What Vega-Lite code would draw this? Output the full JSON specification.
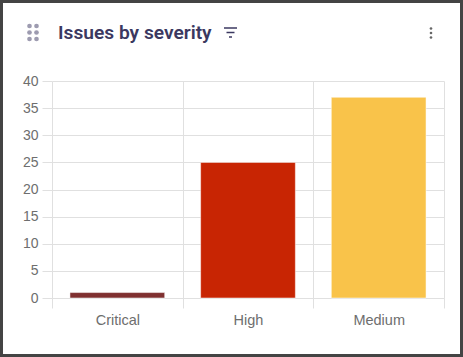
{
"$schema":"https://vega.github.io/schema/vega-lite/v6.json",
"width":392,"height":217,
"autosize":{"type":"none"},
"padding":{"left":52,"top":81,"right":19,"bottom":59},
"background":"#ffffff",
"config":{"view":{"stroke":null}},
"layer":[
{"data":{"values":[{"severity":"Critical","issues":1},{"severity":"High","issues":25},{"severity":"Medium","issues":37}]},
 "mark":{"type":"bar","strokeWidth":1,"strokeOpacity":0.5,"stroke":"#ffffff","width":{"band":0.725}},
 "encoding":{
  "x":{"field":"severity","type":"nominal","sort":null,
   "scale":{"paddingInner":0,"paddingOuter":0},
   "axis":{"title":null,"labelAngle":0,"labelFont":"Liberation Sans","labelFontSize":14.5,"labelColor":"#6e6e6e","labelPadding":5,"tickBand":"extent","tickColor":"#e0e0e0","tickSize":10,"domainColor":"#e0e0e0","grid":true,"gridColor":"#e0e0e0"}},
  "y":{"field":"issues","type":"quantitative",
   "scale":{"domain":[0,40]},
   "axis":{"title":null,"values":[0,5,10,15,20,25,30,35,40],"labelFont":"Liberation Sans","labelFontSize":14,"labelColor":"#6e6e6e","labelPadding":4,"tickColor":"#e0e0e0","tickSize":10,"domain":false,"grid":true,"gridColor":"#e0e0e0"}},
  "color":{"field":"severity","type":"nominal","legend":null,
   "scale":{"domain":["Critical","High","Medium"],"range":["#7f3030","#c82503","#f9c34a"]}}
 }},
{"data":{"values":[{"label":"Issues by severity"}]},
 "mark":{"type":"text","align":"left","baseline":"middle","font":"Roboto","fontSize":19.2,"fontWeight":600,"color":"#3b3860","x":6,"y":-48},
 "encoding":{"text":{"field":"label"}}},
{"data":{"values":[{"i":"drag1","px":-22.5,"py":-55},{"i":"drag2","px":-15.5,"py":-55},{"i":"drag3","px":-22.5,"py":-48.5},{"i":"drag4","px":-15.5,"py":-48.5},{"i":"drag5","px":-22.5,"py":-42},{"i":"drag6","px":-15.5,"py":-42}]},
 "mark":{"type":"point","filled":true,"size":22,"color":"#9d9bb0","opacity":1},
 "encoding":{"x":{"field":"px","type":"quantitative","scale":null},"y":{"field":"py","type":"quantitative","scale":null}}},
{"data":{"values":[{"i":"k1","px":379,"py":-52.5},{"i":"k2","px":379,"py":-48},{"i":"k3","px":379,"py":-43.5}]},
 "mark":{"type":"point","filled":true,"size":7,"color":"#666666","opacity":1},
 "encoding":{"x":{"field":"px","type":"quantitative","scale":null},"y":{"field":"py","type":"quantitative","scale":null}}},
{"data":{"values":[{"a":172,"b":185,"py":-53},{"a":174.5,"b":182.5,"py":-48.5},{"a":177,"b":180,"py":-44}]},
 "mark":{"type":"rule","strokeWidth":1.5,"color":"#3b3860"},
 "encoding":{"x":{"field":"a","type":"quantitative","scale":null},"x2":{"field":"b"},"y":{"field":"py","type":"quantitative","scale":null}}},
{"data":{"values":[{"card":"frame"}]},
 "mark":{"type":"rect","fill":null,"stroke":"#444444","strokeWidth":3,"x":-50.5,"x2":409.5,"y":-79.5,"y2":274.5,"clip":false},
 "encoding":{}}
]
}
